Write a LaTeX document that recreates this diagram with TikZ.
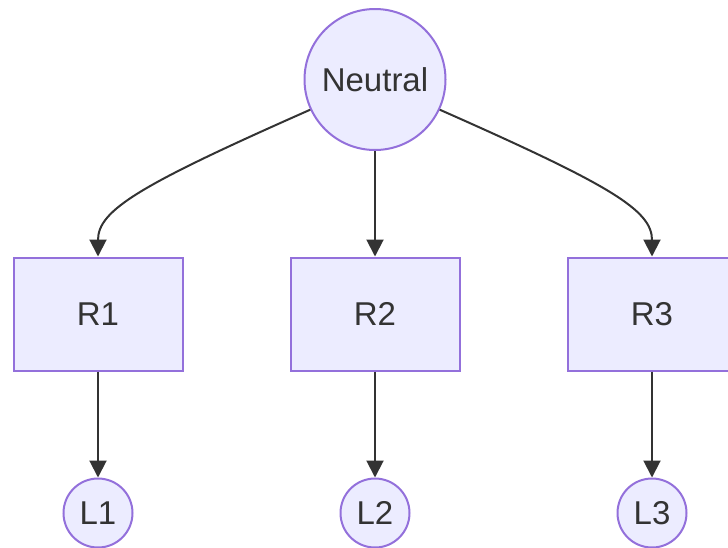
\documentclass[tikz,border=0pt]{standalone}
\usepackage{fontspec}
\setmainfont{Liberation Sans}
\usetikzlibrary{arrows.meta}
\definecolor{nfill}{HTML}{ECECFF}
\definecolor{nstroke}{HTML}{9370DB}
\definecolor{nline}{HTML}{333333}
\begin{document}
\begin{tikzpicture}[x=1pt,y=-1pt,
  base/.style={draw=nstroke,fill=nfill,line width=2pt,text=nline,font=\fontsize{33}{36}\selectfont,inner sep=0pt},
  bignode/.style={base,circle,minimum size=141pt},
  box/.style={base,rectangle,minimum width=169pt,minimum height=113pt},
  leaf/.style={base,circle,minimum size=69pt},
  conn/.style={draw=nline,line width=2pt,-{Triangle[length=17pt,width=17pt]}}]
\useasboundingbox (0,0) rectangle (728,547);
\node[bignode] (N) at (375,79.5) {Neutral};
\node[box] (R1) at (98,314) {R1};
\node[box] (R2) at (375,314) {R2};
\node[box] (R3) at (652,314) {R3};
\node[leaf] (L1) at (98,513) {L1};
\node[leaf] (L2) at (375,513) {L2};
\node[leaf] (L3) at (652,513) {L3};
\draw[conn] (N.-155) .. controls (140,185) and (98,210) .. (R1.north);
\draw[conn] (N.-25) .. controls (610,185) and (652,210) .. (R3.north);
\draw[conn] (N) -- (R2);
\draw[conn] (R1) -- (L1);
\draw[conn] (R2) -- (L2);
\draw[conn] (R3) -- (L3);
\end{tikzpicture}
\end{document}
